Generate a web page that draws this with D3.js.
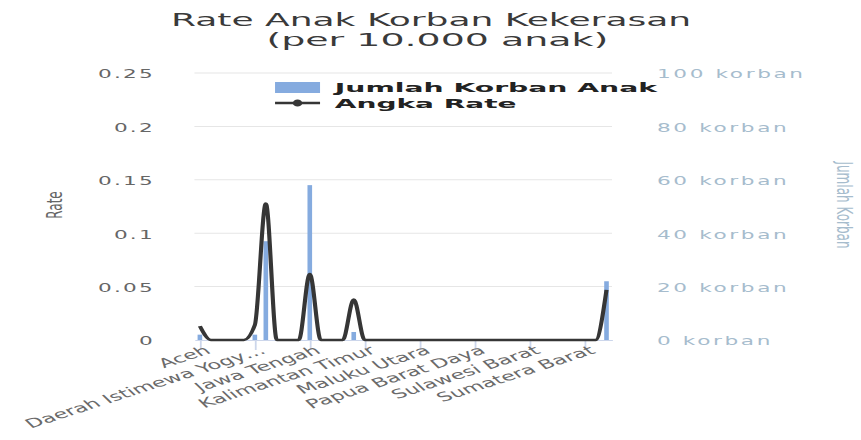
<!DOCTYPE html>
<html>
<head>
<meta charset="utf-8">
<script src="https://cdn.jsdelivr.net/npm/d3@7"></script>
<style>
  html, body { margin: 0; padding: 0; background: #fff; }
  svg { display: block; font-family: "DejaVu Sans", Verdana, sans-serif; }
</style>
</head>
<body>
<div id="chart"></div>
<script>
// Daftar provinsi (urutan sumbu X)
const provinces = [
  'Aceh', 'Bali', 'Bangka Belitung', 'Banten', 'Bengkulu',
  'Daerah Istimewa Yogyakarta', 'DKI Jakarta', 'Gorontalo', 'Jambi', 'Jawa Barat',
  'Jawa Tengah', 'Jawa Timur', 'Kalimantan Barat', 'Kalimantan Selatan', 'Kalimantan Tengah',
  'Kalimantan Timur', 'Kalimantan Utara', 'Kepulauan Riau', 'Lampung', 'Maluku',
  'Maluku Utara', 'Nusa Tenggara Barat', 'Nusa Tenggara Timur', 'Papua', 'Papua Barat',
  'Papua Barat Daya', 'Papua Pegunungan', 'Papua Selatan', 'Papua Tengah', 'Riau',
  'Sulawesi Barat', 'Sulawesi Selatan', 'Sulawesi Tengah', 'Sulawesi Tenggara', 'Sulawesi Utara',
  'Sumatera Barat', 'Sumatera Selatan', 'Sumatera Utara'
];

// Jumlah korban anak per provinsi (kolom, sumbu kanan)
const jumlahKorban = [
  2, 0, 0, 0, 0,
  2, 37, 0, 0, 0,
  58, 0, 0, 0, 3,
  0, 0, 0, 0, 0,
  0, 0, 0, 0, 0,
  0, 0, 0, 0, 0,
  0, 0, 0, 0, 0,
  0, 0, 22
];

// Angka rate per 10.000 anak (garis, sumbu kiri)
const angkaRate = [
  0.013, 0, 0, 0, 0,
  0.014, 0.128, 0, 0, 0,
  0.062, 0, 0, 0, 0.038,
  0, 0, 0, 0, 0,
  0, 0, 0, 0, 0,
  0, 0, 0, 0, 0,
  0, 0, 0, 0, 0,
  0, 0, 0.047
];

const rateTicks = [0, 0.05, 0.1, 0.15, 0.2, 0.25];
const korbanTicks = [0, 20, 40, 60, 80, 100];
const labelStep = 5;

// Gambar aslinya melebar secara horizontal, jadi semua digambar di ruang
// virtual yang lebih sempit lalu ditarik lewat viewBox
const W = 861, H = 440, SX = 1.8, VW = W / SX;
const plot = { left: 108, right: 340, top: 73, bottom: 340 };
const barColor = '#85abdf';
const lineColor = '#363636';

const svg = d3.select('#chart').append('svg')
  .attr('width', W)
  .attr('height', H)
  .attr('viewBox', `0 0 ${VW} ${H}`)
  .attr('preserveAspectRatio', 'none');

const x = d3.scalePoint().domain(provinces).range([plot.left, plot.right]).padding(0.5);
const yRate = d3.scaleLinear().domain([0, 0.25]).range([plot.bottom, plot.top]);
const yKorban = d3.scaleLinear().domain([0, 100]).range([plot.bottom, plot.top]);

// Judul
const title = svg.append('g').attr('fill', '#3a3a3a').attr('font-size', 17);
title.append('text').attr('x', 239.5).attr('y', 26.5).attr('text-anchor', 'middle')
  .attr('textLength', 289).attr('lengthAdjust', 'spacingAndGlyphs')
  .text('Rate Anak Korban Kekerasan');
title.append('text').attr('x', 243).attr('y', 46.5).attr('text-anchor', 'middle')
  .attr('textLength', 190).attr('lengthAdjust', 'spacingAndGlyphs')
  .text('(per 10.000 anak)');

// Garis grid
svg.append('g').selectAll('line')
  .data(rateTicks.filter(t => t > 0))
  .join('line')
  .attr('x1', plot.left).attr('x2', plot.right)
  .attr('y1', d => yRate(d)).attr('y2', d => yRate(d))
  .attr('stroke', '#e6e6e6').attr('stroke-width', 1);

// Sumbu kiri (Rate)
const leftAxis = svg.append('g')
  .attr('transform', 'translate(86,0)')
  .call(d3.axisLeft(yRate).tickValues(rateTicks).tickSize(0).tickPadding(0).tickFormat(d => String(d)));
leftAxis.select('.domain').remove();
leftAxis.selectAll('text')
  .attr('fill', '#666').attr('font-size', 12).attr('letter-spacing', 1.2)
  .attr('font-family', '"DejaVu Sans", sans-serif').attr('dy', '0.4em');

// Sumbu kanan (Jumlah Korban)
const rightAxis = svg.append('g')
  .attr('transform', 'translate(365,0)')
  .call(d3.axisRight(yKorban).tickValues(korbanTicks).tickSize(0).tickPadding(0).tickFormat(d => `${d} korban`));
rightAxis.select('.domain').remove();
rightAxis.selectAll('text')
  .attr('fill', '#a6bccd').attr('font-size', 12).attr('letter-spacing', 1.45)
  .attr('font-family', '"DejaVu Sans", sans-serif').attr('dy', '0.4em');

// Judul sumbu
svg.append('text')
  .attr('transform', 'translate(30,205) rotate(-90)')
  .attr('text-anchor', 'middle').attr('dy', '0.35em')
  .attr('fill', '#666').attr('font-size', 12)
  .text('Rate');
svg.append('text')
  .attr('transform', 'translate(469,205) rotate(90)')
  .attr('text-anchor', 'middle').attr('dy', '0.35em')
  .attr('fill', '#a6bccd').attr('font-size', 12)
  .text('Jumlah Korban');

// Kolom jumlah korban
const barW = x.step() * 0.42;
svg.append('g').selectAll('rect')
  .data(provinces.map((p, i) => ({ p, v: jumlahKorban[i] })))
  .join('rect')
  .attr('x', d => x(d.p) - barW / 2)
  .attr('y', d => yKorban(d.v))
  .attr('width', barW)
  .attr('height', d => yKorban(0) - yKorban(d.v))
  .attr('fill', barColor);

// Sumbu X
const shortName = s => s.length > 20 ? s.slice(0, 20) + '…' : s;
const xAxis = svg.append('g')
  .attr('transform', `translate(0,${plot.bottom})`)
  .call(d3.axisBottom(x)
    .tickValues(provinces.filter((d, i) => i % labelStep === 0))
    .tickSize(10).tickSizeOuter(0)
    .tickFormat(shortName));
xAxis.select('.domain').attr('stroke', '#ccd6eb');
xAxis.selectAll('.tick line').attr('stroke', '#ccd6eb');
xAxis.selectAll('text')
  .attr('fill', '#6a6a6a').attr('font-size', 12.5)
  .attr('font-family', '"DejaVu Sans", sans-serif')
  .attr('text-anchor', 'end')
  .attr('x', 0).attr('y', 0).attr('dy', '0.35em')
  .attr('transform', 'translate(4,9) rotate(-30)');

// Garis rate
const line = d3.line()
  .x(d => x(d.p))
  .y(d => yRate(d.v))
  .curve(d3.curveMonotoneX);
svg.append('path')
  .datum(provinces.map((p, i) => ({ p, v: angkaRate[i] })))
  .attr('d', line)
  .attr('fill', 'none')
  .attr('stroke', lineColor)
  .attr('stroke-width', 2.3)
  .attr('stroke-linejoin', 'round');

// Legenda
const legend = svg.append('g');
legend.append('rect')
  .attr('x', 152.8).attr('y', 82).attr('width', 25).attr('height', 11)
  .attr('fill', barColor);
legend.append('line')
  .attr('x1', 152.8).attr('x2', 177.8).attr('y1', 103).attr('y2', 103)
  .attr('stroke', lineColor).attr('stroke-width', 2.3);
legend.append('ellipse')
  .attr('cx', 165.3).attr('cy', 103).attr('rx', 2.6).attr('ry', 3.6)
  .attr('fill', lineColor);
legend.append('text')
  .attr('x', 186).attr('y', 92.3)
  .attr('font-size', 13).attr('font-weight', 'bold').attr('fill', '#222')
  .attr('textLength', 179).attr('lengthAdjust', 'spacingAndGlyphs')
  .text('Jumlah Korban Anak');
legend.append('text')
  .attr('x', 186).attr('y', 107.7)
  .attr('font-size', 13).attr('font-weight', 'bold').attr('fill', '#222')
  .attr('textLength', 101).attr('lengthAdjust', 'spacingAndGlyphs')
  .text('Angka Rate');
</script>
</body>
</html>
